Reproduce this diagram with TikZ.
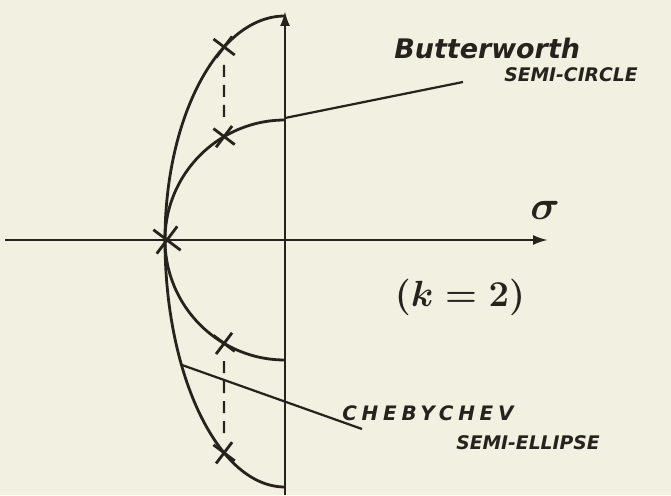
\documentclass[tikz,border=0pt]{standalone}
\usepackage{fontspec}
\setsansfont{DejaVu Sans}
\usetikzlibrary{arrows.meta, shapes.misc, calc}

\definecolor{paper}{RGB}{242,240,224}
\definecolor{ink}{RGB}{40,34,30}

\begin{document}
\begin{tikzpicture}[
    x=0.03cm, y=0.03cm,
    line width=2.2pt, draw=ink,
    curve/.style={draw=ink, line width=2.4pt},
    axis/.style={draw=ink, line width=2.1pt, -{Latex[length=4.5mm, width=3mm]}},
    leader/.style={draw=ink, line width=1.9pt},
    pole/.style={cross out, draw=ink, line width=2.4pt,
        minimum size=4.8mm, inner sep=0pt, rotate=8},
    bigpole/.style={pole, minimum size=6.4mm},
    guide/.style={draw=ink, line width=1.9pt, dash pattern=on 3.6mm off 2.4mm},
    note/.style={font=\sffamily\bfseries\itshape, text=ink, inner sep=0pt}
]

% --- paper and bounding box ---
\fill[paper] (0,0) rectangle (671,495);
\useasboundingbox (0,0) rectangle (671,495);

\coordinate (O) at (285,255);

% --- axes ---
\draw[axis] (5,255) -- (548,255);
\draw[axis] (285,0) -- (285,484);
\node[text=ink, inner sep=0pt] (sigma) at (545,285)
    {\scalebox{1.4}{\fontsize{30}{34}\selectfont\boldmath$\sigma$}};

% --- Butterworth semi-circle ---
\draw[curve] (285,375) arc[start angle=90, end angle=270, radius=120];

% --- Chebychev semi-ellipse ---
\draw[curve] (285,479) arc[start angle=90, end angle=180, x radius=120, y radius=224]
    arc[start angle=180, end angle=270, x radius=120, y radius=247];

% --- poles ---
\node[pole] (cu) at ($(O)+(120.5:120 and 224)$) {};
\node[pole] (bu) at ($(O)+(120.5:120)$) {};
\node[bigpole] (p0) at (167,255) {};
\node[pole] (bl) at ($(O)+(-120.5:120)$) {};
\node[pole] (cl) at ($(O)+(-120.5:120 and 247)$) {};

% --- pole projections ---
\draw[guide, shorten <=2.5mm, shorten >=2.5mm] (cu) -- (bu);
\draw[guide, shorten <=2.5mm, shorten >=2.5mm] (bl) -- (cl);

% --- labels and leaders ---
\node[note, font=\sffamily\bfseries\itshape\fontsize{23}{26}\selectfont, anchor=west]
    (bw) at (393,447) {Butterworth};
\node[note, font=\sffamily\bfseries\itshape\fontsize{16}{18}\selectfont, anchor=west]
    (bwsub) at (503,420) {SEMI-CIRCLE};
\coordinate (bwtip) at (285,377);
\draw[leader] (bwtip) -- (463,413);

\node[note, font=\sffamily\bfseries\itshape\fontsize{17}{20}\selectfont\addfontfeature{LetterSpace=24}, anchor=west]
    (cb) at (341,82) {CHEBYCHEV};
\node[note, font=\sffamily\bfseries\itshape\fontsize{16}{18}\selectfont, anchor=west]
    (cbsub) at (455,52) {SEMI-ELLIPSE};
\coordinate (cbtip) at (182,130);
\draw[leader] (cbtip) -- (362,66);

\node[text=ink, inner sep=0pt] (k) at (460,198)
    {\scalebox{1.25}{\fontsize{36}{40}\selectfont\boldmath$(k=2)$}};

\end{tikzpicture}
\end{document}
